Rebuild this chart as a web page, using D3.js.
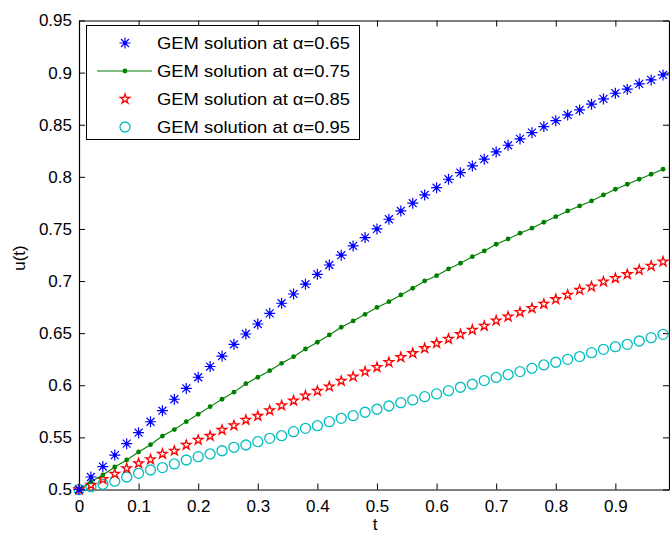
<!DOCTYPE html>
<html>
<head>
<meta charset="utf-8">
<script src="https://cdn.jsdelivr.net/npm/d3@7"></script>
<style>
  html, body { margin: 0; padding: 0; background: #fff; }
  svg { display: block; }
  text { font-family: "Liberation Sans", Arial, sans-serif; fill: #000; }
</style>
</head>
<body>
<svg id="chart" width="670" height="535"></svg>
<script>
// ---- data ----
const tValues = [0,0.02,0.04,0.06,0.08,0.10,0.12,0.14,0.16,0.18,0.20,0.22,0.24,0.26,0.28,0.30,0.32,0.34,0.36,0.38,0.40,0.42,0.44,0.46,0.48,0.50,0.52,0.54,0.56,0.58,0.60,0.62,0.64,0.66,0.68,0.70,0.72,0.74,0.76,0.78,0.80,0.82,0.84,0.86,0.88,0.90,0.92,0.94,0.96,0.98];

const u065 = [0.500,0.512,0.522,0.533,0.544,0.5545,0.565,0.5756,0.5866,0.597,0.6077,0.618,0.628,0.6393,0.6492,0.6588,0.669,0.6787,0.6876,0.697,0.7065,0.7154,0.7248,0.7337,0.7417,0.750,0.7593,0.7673,0.7747,0.7826,0.7896,0.7977,0.804,0.8105,0.8169,0.8239,0.8303,0.8364,0.8424,0.8482,0.8539,0.8594,0.8642,0.8697,0.8748,0.8802,0.8841,0.8892,0.893,0.8978];

const u075 = [0.500,0.5075,0.514,0.5216,0.5283,0.536,0.543,0.5513,0.5575,0.5651,0.5722,0.5795,0.5866,0.5934,0.6015,0.6077,0.614,0.6211,0.6274,0.6348,0.6413,0.6483,0.6557,0.6617,0.6681,0.6747,0.6802,0.6867,0.6931,0.7001,0.7052,0.7116,0.7171,0.7234,0.7289,0.7353,0.7404,0.7459,0.7507,0.7564,0.7618,0.7673,0.7721,0.7769,0.7826,0.7881,0.7929,0.7977,0.8025,0.8073];

const u085 = [0.500,0.5043,0.5098,0.515,0.5203,0.5251,0.5288,0.5341,0.5371,0.5427,0.5475,0.5513,0.5571,0.5614,0.5667,0.5705,0.5758,0.5806,0.5852,0.590,0.5945,0.5987,0.6041,0.6083,0.6131,0.6173,0.6221,0.6269,0.6307,0.6355,0.6403,0.6444,0.6489,0.6531,0.6569,0.662,0.6658,0.6701,0.6739,0.678,0.6825,0.6867,0.6915,0.6946,0.6994,0.7027,0.7065,0.7107,0.7145,0.7186];

const u095 = [0.500,0.5027,0.505,0.508,0.512,0.5155,0.5187,0.521,0.5245,0.5283,0.5315,0.5341,0.5372,0.5405,0.5427,0.5459,0.5491,0.5516,0.5555,0.5587,0.5612,0.5651,0.5683,0.5708,0.5741,0.577,0.5801,0.5833,0.5859,0.5891,0.5917,0.5948,0.5981,0.601,0.6045,0.6075,0.6103,0.6131,0.6163,0.6195,0.6221,0.6249,0.6275,0.6313,0.6345,0.637,0.6393,0.6425,0.6457,0.6489];

const xTicks = [0,0.1,0.2,0.3,0.4,0.5,0.6,0.7,0.8,0.9];
const xTickLabels = ["0","0.1","0.2","0.3","0.4","0.5","0.6","0.7","0.8","0.9"];
const yTicks = [0.5,0.55,0.6,0.65,0.7,0.75,0.8,0.85,0.9,0.95];
const yTickLabels = ["0.5","0.55","0.6","0.65","0.7","0.75","0.8","0.85","0.9","0.95"];
const legendLabels = ["GEM solution at \u03B1=0.65","GEM solution at \u03B1=0.75","GEM solution at \u03B1=0.85","GEM solution at \u03B1=0.95"];
const xLabel = "t";
const yLabel = "u(t)";

// ---- layout ----
const svg = d3.select("#chart");
const plotL = 79, plotR = 669, plotT = 20.5, plotB = 489.5;
const x = d3.scaleLinear().domain([0, 0.99]).range([plotL, plotR]);
const y = d3.scaleLinear().domain([0.5, 0.95]).range([plotB, plotT]);

const colors = { c065: "#0000ff", c075: "#008000", c085: "#ff0000", c095: "#00bfbf" };

// ---- axes (MATLAB box with inward ticks) ----
const tickLen = 6;
const fmtX = (d, i) => xTickLabels[i];
const fmtY = (d, i) => yTickLabels[i];

const gx = svg.append("g").attr("transform", `translate(0,${plotB})`)
  .call(d3.axisBottom(x).tickValues(xTicks).tickFormat(fmtX).tickSizeInner(-tickLen).tickSizeOuter(0).tickPadding(10));
const gxt = svg.append("g").attr("transform", `translate(0,${plotT})`)
  .call(d3.axisTop(x).tickValues(xTicks).tickFormat("").tickSizeInner(-tickLen).tickSizeOuter(0));
const gy = svg.append("g").attr("transform", `translate(${plotL},0)`)
  .call(d3.axisLeft(y).tickValues(yTicks).tickFormat(fmtY).tickSizeInner(-tickLen).tickSizeOuter(0).tickPadding(7));
const gyr = svg.append("g").attr("transform", `translate(${plotR},0)`)
  .call(d3.axisRight(y).tickValues(yTicks).tickFormat("").tickSizeInner(-tickLen).tickSizeOuter(0));

[gx, gxt, gy, gyr].forEach(g => {
  g.selectAll("path.domain").attr("stroke", "#000").attr("stroke-width", 1.2);
  g.selectAll(".tick line").attr("stroke", "#000").attr("stroke-width", 1);
  g.selectAll(".tick text").attr("font-size", "17px").attr("font-family", "Liberation Sans, Arial, sans-serif").attr("fill", "#222");
});

// axis labels
svg.append("text").attr("x", 375).attr("y", 530).attr("text-anchor", "middle")
  .attr("font-size", "17px").attr("fill", "#222").text(xLabel);
svg.append("text").attr("transform", "translate(25,258) rotate(-90)").attr("text-anchor", "middle")
  .attr("font-size", "17px").attr("fill", "#222").text(yLabel);

// ---- marker drawers ----
function asterisk(g, cx, cy, r, color) {
  const d = r * 0.72;
  const p = `M${cx - r},${cy}L${cx + r},${cy}M${cx},${cy - r}L${cx},${cy + r}` +
            `M${cx - d},${cy - d}L${cx + d},${cy + d}M${cx - d},${cy + d}L${cx + d},${cy - d}`;
  g.append("path").attr("d", p).attr("stroke", color).attr("stroke-width", 1.2).attr("fill", "none");
  g.append("circle").attr("cx", cx).attr("cy", cy).attr("r", 1.9).attr("fill", color);
}
const starPath = d3.symbol().type(d3.symbolStar).size(28)();

function drawStar(g, cx, cy, color) {
  g.append("path").attr("d", starPath).attr("transform", `translate(${cx},${cy})`)
    .attr("fill", "none").attr("stroke", color).attr("stroke-width", 1.3);
}

const plot = svg.append("g");

// series 0.95 (cyan circles)
const s095 = tValues.map((t, i) => [t, u095[i]]);
plot.append("g").selectAll("circle").data(s095).join("circle")
  .attr("cx", d => x(d[0])).attr("cy", d => y(d[1])).attr("r", 5)
  .attr("fill", "none").attr("stroke", colors.c095).attr("stroke-width", 1.3);

// series 0.85 (red pentagrams)
const s085 = tValues.map((t, i) => [t, u085[i]]);
const gStar = plot.append("g");
s085.forEach(d => drawStar(gStar, x(d[0]), y(d[1]), colors.c085));

// series 0.75 (green line with dots)
const s075 = tValues.map((t, i) => [t, u075[i]]);
plot.append("path").datum(s075)
  .attr("d", d3.line().x(d => x(d[0])).y(d => y(d[1])))
  .attr("fill", "none").attr("stroke", colors.c075).attr("stroke-width", 1.1);
plot.append("g").selectAll("circle").data(s075).join("circle")
  .attr("cx", d => x(d[0])).attr("cy", d => y(d[1])).attr("r", 2.4)
  .attr("fill", colors.c075);

// series 0.65 (blue asterisks)
const s065 = tValues.map((t, i) => [t, u065[i]]);
const gAst = plot.append("g");
s065.forEach(d => asterisk(gAst, x(d[0]), y(d[1]), 5.5, colors.c065));

// ---- legend ----
const lg = svg.append("g");
lg.append("rect").attr("x", 86.5).attr("y", 25.5).attr("width", 273).attr("height", 114)
  .attr("fill", "#fff").attr("stroke", "#000").attr("stroke-width", 1);
const rowY = [43, 71, 99, 127];
const mx = 125;
asterisk(lg, mx, rowY[0], 5.5, colors.c065);
lg.append("line").attr("x1", 97).attr("x2", 152).attr("y1", rowY[1]).attr("y2", rowY[1])
  .attr("stroke", colors.c075).attr("stroke-width", 1.1);
lg.append("circle").attr("cx", mx).attr("cy", rowY[1]).attr("r", 2.4).attr("fill", colors.c075);
drawStar(lg, mx, rowY[2], colors.c085);
lg.append("circle").attr("cx", mx).attr("cy", rowY[3]).attr("r", 5)
  .attr("fill", "none").attr("stroke", colors.c095).attr("stroke-width", 1.3);
legendLabels.forEach((lab, i) => {
  lg.append("text").attr("x", 157).attr("y", rowY[i]).attr("dy", "0.35em")
    .attr("font-size", "17px").attr("fill", "#222")
    .attr("textLength", 193).attr("lengthAdjust", "spacingAndGlyphs")
    .text(lab);
});
</script>
</body>
</html>
